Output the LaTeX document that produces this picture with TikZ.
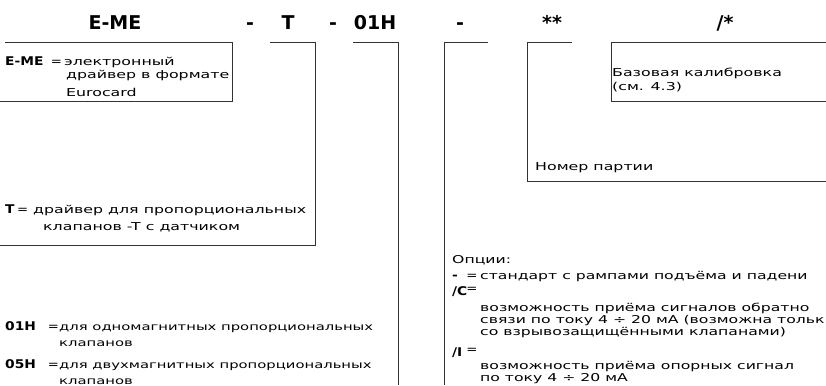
\documentclass[tikz,border=0pt]{standalone}
\usepackage{fontspec}
\setmainfont{DejaVu Sans}[FakeStretch=1.45]
\newfontfamily\titlefont{DejaVu Sans}
\newfontfamily\lblfont{DejaVu Sans}[FakeStretch=1.15]
\begin{document}
\begin{tikzpicture}[x=1pt,y=-1pt,
  txt/.style={inner sep=0pt,anchor=base west,font=\fontsize{10.9}{12}\selectfont},
  opt/.style={inner sep=0pt,anchor=base west,font=\fontsize{10.8}{12}\selectfont},
  lbl/.style={inner sep=0pt,anchor=base west,font=\lblfont\bfseries\fontsize{12}{13}\selectfont},
  eq/.style={inner sep=0pt,anchor=base,font=\lblfont\fontsize{11.5}{12}\selectfont},
  ttl/.style={inner sep=0pt,anchor=base,font=\titlefont\bfseries\fontsize{19}{22}\selectfont},
  frame/.style={draw=black!80,line width=0.8pt}]
\useasboundingbox (0,0) rectangle (826,385);
% title
\node[ttl] (tEME) at (115,30) {E-ME};
\node[ttl] (td1) at (250,30) {-};
\node[ttl] (tT) at (288,30) {T};
\node[ttl] (td2) at (333,30) {-};
\node[ttl] (t01H) at (375,30) {01H};
\node[ttl] (td3) at (460,30) {-};
\node[ttl] (tss) at (552,30) {**};
\node[ttl] (tsl) at (725,30) {/*};
% frames
\draw[frame] (5,42) -- (232,42) -- (232,101.7) -- (0,101.7);
\draw[frame] (270,42) -- (315,42) -- (315,245.7) -- (0,245.7);
\draw[frame] (353,42) -- (398,42) -- (398,385);
\draw[frame] (488,42) -- (444,42) -- (444,385);
\draw[frame] (572,42) -- (527,42) -- (527,181) -- (826,181);
\draw[frame] (826,42) -- (611,42) -- (611,101.7) -- (826,101.7);
% E-ME
\node[lbl] (aK) at (5,66) {E-ME};
\node[eq] (aEq) at (56.5,66) {=};
\node[txt] (a1) at (64,66) {электронный};
\node[txt] (a2) at (66,79) {драйвер в формате};
\node[txt] (a3) at (66,96.7) {Eurocard};
% T
\node[lbl] (bK) at (5,213.3) {T};
\node[eq] (bEq) at (22.7,213.3) {=};
\node[txt] (b1) at (33,213.3) {драйвер для пропорциональных};
\node[txt] (b2) at (43,230.7) {клапанов -T с датчиком};
% 01H / 05H
\node[lbl] (cK) at (5,330) {01H};
\node[eq] (cEq) at (53.5,330) {=};
\node[txt,font=\fontsize{10.2}{12}\selectfont] (c1) at (59,330) {для одномагнитных пропорциональных};
\node[txt,font=\fontsize{10.2}{12}\selectfont] (c2) at (59,346) {клапанов};
\node[lbl] (dK) at (5,368) {05H};
\node[eq] (dEq) at (53.5,368) {=};
\node[txt,font=\fontsize{10.2}{12}\selectfont] (d1) at (59,368) {для двухмагнитных пропорциональных};
\node[txt,font=\fontsize{10.2}{12}\selectfont] (d2) at (59,384) {клапанов};
% calibration
\node[txt] (e1) at (612,76.7) {Базовая калибровка};
\node[txt] (e2) at (612,91) {(см. 4.3)};
\node[txt] (f1) at (535,170) {Номер партии};
% options
\node[opt] (g0) at (452,263) {Опции:};
\node[lbl] (gK) at (452,279) {-};
\node[eq] (gEq) at (472,279) {=};
\node[opt] (g1) at (480,279) {стандарт с рампами подъёма и падени};
\node[lbl] (hK) at (452,295) {/C};
\node[eq] (hEq) at (472,292) {=};
\node[opt] (h1) at (480,311) {возможность приёма сигналов обратно};
\node[opt] (h2) at (480,323) {связи по току 4 ÷ 20 мА (возможна тольк};
\node[opt] (h3) at (480,335) {со взрывозащищёнными клапанами)};
\node[lbl] (iK) at (452,356) {/I};
\node[eq] (iEq) at (472,353) {=};
\node[opt] (i1) at (480,369) {возможность приёма опорных сигнал};
\node[opt] (i2) at (480,381.7) {по току 4 ÷ 20 мА};
\end{tikzpicture}
\end{document}
